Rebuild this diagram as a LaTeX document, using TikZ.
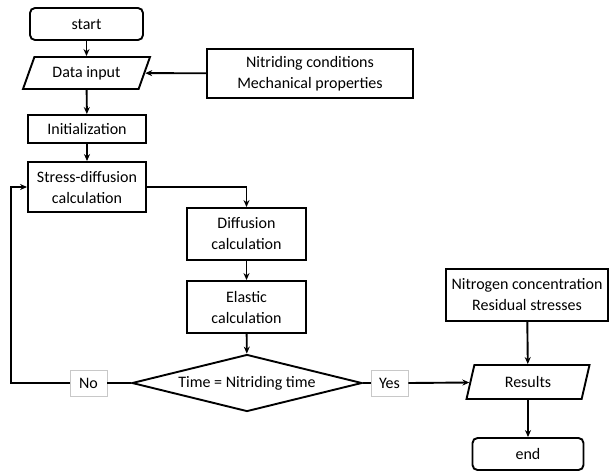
\documentclass[tikz,border=0pt]{standalone}
\usepackage{fontspec}
\setmainfont{Carlito}
\usetikzlibrary{shapes.geometric,arrows.meta,positioning}
\definecolor{labelgray}{HTML}{C8C8C8}

\begin{document}
\begin{tikzpicture}[x=1pt,y=-1pt,
    font=\fontsize{16}{21}\selectfont,
    line width=1.9pt,
    every node/.style={inner sep=0pt, align=center},
    term/.style={draw, rounded corners=5pt, minimum width=113pt, minimum height=32pt},
    procbox/.style={draw, minimum width=118pt, minimum height=28pt},
    iobox/.style={draw, trapezium, trapezium left angle=50, trapezium right angle=130,
        trapezium stretches body, minimum width=127pt, minimum height=32pt},
    decision/.style={draw, diamond, aspect=4, minimum width=230pt, minimum height=57pt},
    branch/.style={draw=labelgray, line width=0.6pt, fill=white, minimum width=37pt, minimum height=26pt},
    arrow/.style={-{Stealth[length=7pt,width=6pt]}}
]
\useasboundingbox (0,0) rectangle (609,472);

% left column
\node[term] (start) at (86.5,24) {start};
\node[iobox] (data) at (86.5,73) {Data input};
\node[procbox] (init) at (87,129) {Initialization};
\node[procbox, minimum height=50pt] (stress) at (87,187) {Stress-diffusion\\calculation};
\node[draw, minimum width=206pt, minimum height=49pt] (cond) at (310,73.5) {Nitriding conditions\\Mechanical properties};

% middle column
\node[procbox, minimum width=119pt, minimum height=52pt] (diff) at (246.5,234) {Diffusion\\calculation};
\node[procbox, minimum width=119pt, minimum height=52pt] (elastic) at (246.5,307) {Elastic\\calculation};
\node[decision] (check) at (247,383) {Time = Nitriding time};
\node[branch] (no) at (88.5,383) {No};
\node[branch] (yes) at (389.5,383) {Yes};

% right column
\node[draw, minimum width=162pt, minimum height=52pt] (outvars) at (527,295) {Nitrogen concentration\\Residual stresses};
\node[iobox, trapezium left angle=55, trapezium right angle=125, minimum width=123pt, minimum height=34pt] (res) at (528,382) {Results};
\node[term, minimum width=111pt] (stop) at (528,454) {end};
\coordinate (loop) at (11,383);

\draw[arrow] (start) -- (data);
\draw[arrow] (cond) -- (data);
\draw[arrow] (data) -- (init);
\draw[arrow] (init) -- (stress);
\draw[arrow] (stress.east) -| (diff.north);
\draw[arrow] (diff) -- (elastic);
\draw[arrow] (elastic) -- (check);
\draw (check.west) -- (no.east);
\draw[arrow] (no.west) -- (loop) |- (stress.west);
\draw (check.east) -- (yes.west);
\draw[arrow] (yes.east) -- (res);
\draw[arrow] (outvars) -- (res);
\draw[arrow] (res) -- (stop);
\end{tikzpicture}
\end{document}
